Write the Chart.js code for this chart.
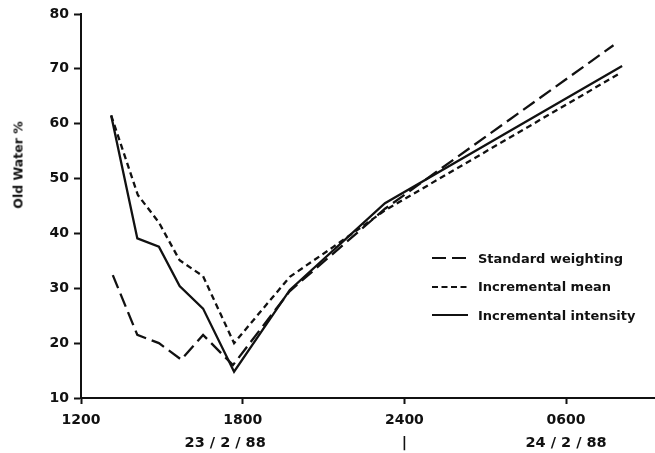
<!DOCTYPE html>
<html lang="en">
<head>
<meta charset="UTF-8">
<title>Old Water %</title>
<script src="https://cdn.jsdelivr.net/npm/chart.js"></script>
<style>
    * { margin: 0; padding: 0; box-sizing: border-box; }
    body { background: #fff; width: 655px; height: 453px; overflow: hidden; font-family: 'DejaVu Sans', sans-serif; }
    .wrap { position: relative; width: 655px; height: 453px; }
    .y-title {
        position: absolute; left: 18px; top: 165px;
        transform: translate(-50%, -50%) rotate(-90deg);
        font-size: 12.5px; font-weight: bold; color: #111; white-space: nowrap;
    }
    .legend { position: absolute; left: 432px; top: 244px; }
    .legend div { display: flex; align-items: center; height: 28.5px; font-size: 13px; font-weight: bold; color: #111; white-space: nowrap; }
    .legend svg { width: 36px; height: 4px; margin-right: 10px; }
</style>
</head>
<body>
<div class="wrap">
    <canvas id="chart" width="655" height="453"></canvas>
    <div class="y-title">Old Water %</div>
    <div class="legend">
        <div><svg><line x1="0" y1="2" x2="36" y2="2" stroke="#111" stroke-width="2.2" stroke-dasharray="14 6"/></svg>Standard weighting</div>
        <div><svg><line x1="0" y1="2" x2="36" y2="2" stroke="#111" stroke-width="2.2" stroke-dasharray="6 3.5"/></svg>Incremental mean</div>
        <div><svg><line x1="0" y1="2" x2="36" y2="2" stroke="#111" stroke-width="2.2"/></svg>Incremental intensity</div>
    </div>
</div>
<script>
    // hours after 1200 on 23/2/88
    const stdHours = [1.18, 2.09, 2.89, 3.72, 4.53, 5.64, 7.75, 11.28, 19.76];
    const stdValues = [32.4, 21.5, 20, 17, 21.5, 16, 29.5, 44.5, 74.3];
    const meanHours = [1.12, 2.11, 2.89, 3.66, 4.53, 5.68, 7.75, 9.35, 11.28, 20.0];
    const meanValues = [61.5, 47, 42, 35.1, 32.2, 20, 32.1, 37.5, 44.2, 69.2];
    const intHours = [1.12, 2.09, 2.89, 3.66, 4.53, 5.68, 7.75, 11.28, 20.08];
    const intValues = [61.5, 39.1, 37.6, 30.4, 26.3, 14.8, 29.7, 45.5, 70.5];

    const tickHours = [0, 6, 12, 18];
    const tickTimes = ['1200', '1800', '2400', '0600'];
    const dateHours = [5.35, 12, 18];
    const dateLabels = ['23 / 2 / 88', '|', '24 / 2 / 88'];
    const yTicks = [10, 20, 30, 40, 50, 60, 70, 80];

    const toPoints = (xs, ys) => xs.map((x, i) => ({ x: x, y: ys[i] }));
    const lineStyle = { borderColor: '#111', borderWidth: 2.3, pointRadius: 0, tension: 0, fill: false };
    const tickFont = { family: 'DejaVu Sans', size: 14, weight: 'bold' };

    new Chart(document.getElementById('chart'), {
        type: 'line',
        data: {
            datasets: [
                Object.assign({ label: 'Standard weighting', data: toPoints(stdHours, stdValues), borderDash: [14, 6] }, lineStyle),
                Object.assign({ label: 'Incremental mean', data: toPoints(meanHours, meanValues), borderDash: [6, 4] }, lineStyle),
                Object.assign({ label: 'Incremental intensity', data: toPoints(intHours, intValues) }, lineStyle)
            ]
        },
        options: {
            responsive: false,
            animation: false,
            layout: { padding: { top: 14, right: 0, left: 0, bottom: 0 } },
            plugins: { legend: { display: false }, tooltip: { enabled: false } },
            scales: {
                x: {
                    type: 'linear', min: 0, max: 21.3, weight: 0,
                    afterBuildTicks: s => { s.ticks = tickHours.map(v => ({ value: v })); },
                    afterFit: s => { s.height = 29; },
                    grid: { drawOnChartArea: false, tickLength: 6, tickWidth: 2, color: '#111' },
                    border: { display: true, width: 2, color: '#111' },
                    ticks: {
                        color: '#111', font: tickFont, padding: 8, maxRotation: 0,
                        callback: v => tickTimes[tickHours.indexOf(v)]
                    }
                },
                dates: {
                    type: 'linear', position: 'bottom', axis: 'x', min: 0, max: 21.3, weight: 1,
                    afterBuildTicks: s => { s.ticks = dateHours.map(v => ({ value: v })); },
                    afterFit: s => { s.height = 26; },
                    grid: { display: false },
                    border: { display: false },
                    ticks: {
                        color: '#111', font: { family: 'DejaVu Sans', size: 14.5, weight: 'bold' }, padding: 0, maxRotation: 0,
                        callback: v => dateLabels[dateHours.indexOf(v)]
                    }
                },
                y: {
                    min: 10, max: 80,
                    afterBuildTicks: s => { s.ticks = yTicks.map(v => ({ value: v })); },
                    afterFit: s => { s.width = 81; },
                    grid: { drawOnChartArea: false, tickLength: 7, tickWidth: 2, color: '#111' },
                    border: { display: true, width: 2, color: '#111' },
                    ticks: { color: '#111', font: { family: 'DejaVu Sans', size: 14, weight: 'bold' }, padding: 5 }
                }
            }
        }
    });
</script>
</body>
</html>
